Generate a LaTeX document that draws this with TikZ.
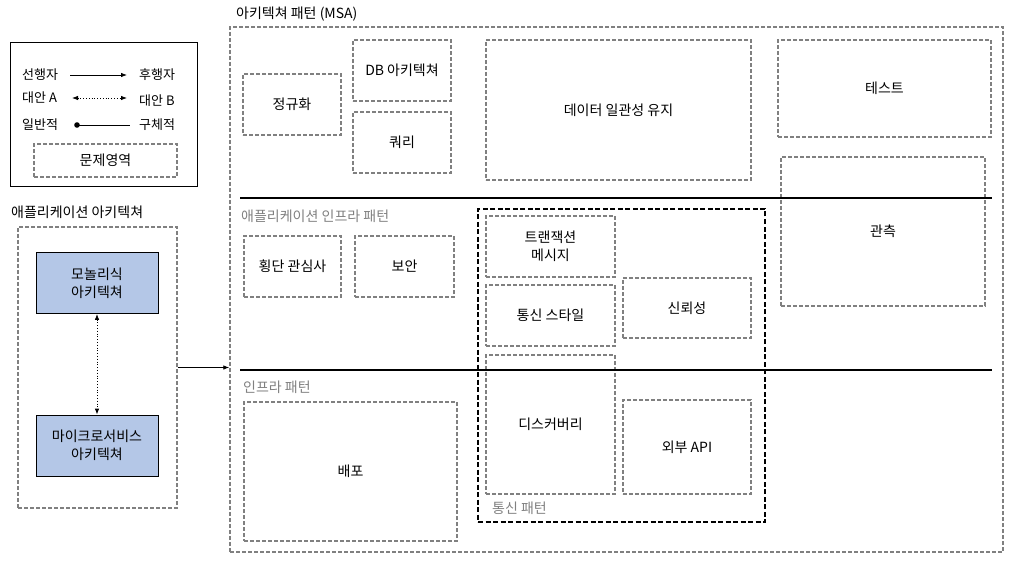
\documentclass[tikz,border=0pt]{standalone}
\usepackage{fontspec}
\setmainfont{Noto Sans CJK KR}
\usepackage{xcolor}
\usetikzlibrary{arrows.meta}

\definecolor{boxgray}{RGB}{128,128,128}
\definecolor{archblue}{RGB}{180,199,231}

\tikzset{
  pbox/.style={draw=boxgray, line width=1.4pt, dash pattern=on 4pt off 2pt,
    align=center, inner sep=0pt},
  archbox/.style={draw=black, fill=archblue, line width=0.8pt, align=center,
    inner sep=0pt, minimum width=122pt, minimum height=61pt},
  seclabel/.style={anchor=west, text=boxgray, inner sep=0pt},
  title/.style={anchor=west, inner sep=0pt},
  arr/.style={-{Latex[length=6pt,width=4.5pt]}, line width=0.8pt},
}

\begin{document}
\begin{tikzpicture}[x=1pt, y=-1pt, font=\fontsize{14}{18}\selectfont]
  \useasboundingbox (0,0) rectangle (1019,569);

  % legend
  \node[draw, line width=0.8pt, minimum width=187pt, minimum height=144pt] (legend) at (103.5,114) {};
  \begin{scope}[font=\fontsize{13}{16}\selectfont]
    \node[title] (pred) at (22,75) {선행자};
    \node[title] (succ) at (139,75) {후행자};
    \node[title] (alta) at (22,98) {대안 A};
    \node[title] (altb) at (139,101) {대안 B};
    \node[title] (gen) at (22,125) {일반적};
    \node[title] (spec) at (139,125) {구체적};
  \end{scope}
  \coordinate (p1) at (70,75);  \coordinate (p2) at (127,75);
  \coordinate (a1) at (72,98);  \coordinate (a2) at (127,98);
  \coordinate (g1) at (77,125); \coordinate (g2) at (130,125);
  \draw[arr] (p1) -- (p2);
  \draw[arr, {Latex[length=6pt,width=4.5pt]}-{Latex[length=6pt,width=4.5pt]}, dotted] (a1) -- (a2);
  \draw[line width=0.8pt] (g1) -- (g2);
  \fill (g1) circle (2.8pt);
  \node[pbox, minimum width=143pt, minimum height=33pt] (problem) at (105.5,160.5) {문제영역};

  % application architecture
  \node[title] (applabel) at (11,212) {애플리케이션 아키텍쳐};
  \node[pbox, minimum width=159pt, minimum height=281pt] (appbox) at (97.5,367.5) {};
  \node[archbox] (mono) at (97,283) {모놀리식\\아키텍쳐};
  \node[archbox] (micro) at (97,445.5) {마이크로서비스\\아키텍쳐};
  \draw[arr, {Latex[length=6pt,width=4.5pt]}-{Latex[length=6pt,width=4.5pt]}, dotted] (mono) -- (micro);

  % architecture patterns (MSA)
  \node[title] (msalabel) at (236,14) {아키텍쳐 패턴 (MSA)};
  \node[pbox, minimum width=773pt, minimum height=525pt] (msa) at (616.5,289.5) {};
  \draw[arr] (appbox.east) -- (appbox.east -| msa.west);

  \node[pbox, minimum width=98pt, minimum height=61pt] (norm) at (292,104.5) {정규화};
  \node[pbox, minimum width=98pt, minimum height=61pt] (dbarch) at (402,70.5) {DB 아키텍쳐};
  \node[pbox, minimum width=98pt, minimum height=61pt] (query) at (402,142.5) {쿼리};
  \node[pbox, minimum width=265pt, minimum height=140pt] (consist) at (618.5,110) {데이터 일관성 유지};
  \node[pbox, minimum width=213pt, minimum height=97pt] (test) at (884.5,88.5) {테스트};
  \node[pbox, minimum width=204pt, minimum height=149pt] (observe) at (883,231.5) {관측};

  \node[seclabel] (infralabel) at (241,216) {애플리케이션 인프라 패턴};
  \node[pbox, minimum width=97pt, minimum height=61pt] (cross) at (292.5,266.5) {횡단 관심사};
  \node[pbox, minimum width=99pt, minimum height=61pt] (security) at (404.5,266.5) {보안};

  \node[draw, line width=1.8pt, dash pattern=on 5pt off 2.5pt, minimum width=287pt,
    minimum height=313pt] (commpat) at (621.5,365.5) {};
  \node[pbox, minimum width=129pt, minimum height=61pt] (trans) at (550.5,246.5) {트랜잭션\\메시지};
  \node[pbox, minimum width=129pt, minimum height=61pt] (style) at (550.5,315.5) {통신 스타일};
  \node[pbox, minimum width=128pt, minimum height=60pt] (reliab) at (687,308) {신뢰성};
  \node[pbox, minimum width=129pt, minimum height=139pt] (discov) at (550.5,424.5) {디스커버리};
  \node[pbox, minimum width=128pt, minimum height=94pt] (extapi) at (687,447) {외부 API};
  \node[seclabel] (commlabel) at (492,508) {통신 패턴};

  \node[seclabel] (baselabel) at (243,387) {인프라 패턴};
  \node[pbox, minimum width=213pt, minimum height=139pt] (deploy) at (350.5,471.5) {배포};

  % layer separators
  \coordinate (s1) at (240,198); \coordinate (e1) at (992,198);
  \coordinate (s2) at (240,370); \coordinate (e2) at (992,370);
  \draw[line width=1.8pt] (s1) -- (e1);
  \draw[line width=1.8pt] (s2) -- (e2);
\end{tikzpicture}
\end{document}
